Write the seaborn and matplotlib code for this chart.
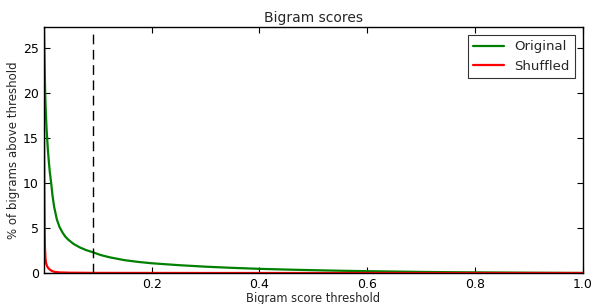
import matplotlib
matplotlib.use("Agg")
import matplotlib.pyplot as plt
import seaborn as sns
import pandas as pd

# thresholds and % of bigrams above them
orig_x = [0.0, 0.0005, 0.001, 0.0017, 0.0024, 0.0032, 0.004, 0.005, 0.006, 0.0075,
          0.009, 0.011, 0.0135, 0.016, 0.019, 0.024, 0.029, 0.035, 0.04, 0.045,
          0.055, 0.067, 0.078, 0.091, 0.105, 0.122, 0.15, 0.175, 0.2, 0.25,
          0.3, 0.35, 0.4, 0.45, 0.5, 0.55, 0.6, 0.65, 0.7, 0.75,
          0.8, 0.85, 0.9, 0.95, 1.0]
orig_y = [29.0, 26.5, 24.5, 22.0, 20.0, 18.5, 17.3, 16.0, 15.0, 13.6,
          12.5, 11.2, 10.0, 8.6, 7.35, 5.96, 5.1, 4.45, 4.02, 3.71,
          3.23, 2.83, 2.55, 2.3, 2.0, 1.74, 1.42, 1.23, 1.08, 0.87,
          0.7, 0.57, 0.46, 0.38, 0.31, 0.25, 0.2, 0.16, 0.12, 0.09,
          0.07, 0.05, 0.03, 0.015, 0.0]
shuf_x = [0.0, 0.0005, 0.001, 0.0015, 0.002, 0.003, 0.004, 0.006, 0.008, 0.011,
          0.015, 0.02, 0.03, 0.05, 0.1, 0.3, 1.0]
shuf_y = [21.1, 14.0, 8.0, 4.5, 2.8, 1.6, 1.1, 0.75, 0.55, 0.38,
          0.22, 0.12, 0.06, 0.03, 0.01, 0.0, 0.0]
cutoff = 0.091

df = pd.concat([
    pd.DataFrame({"x": orig_x, "y": orig_y, "set": "Original"}),
    pd.DataFrame({"x": shuf_x, "y": shuf_y, "set": "Shuffled"}),
])

sns.set_style("ticks")
plt.rcParams.update({
    "font.family": ["DejaVu Sans"],
    "xtick.direction": "in", "ytick.direction": "in",
    "xtick.top": True, "ytick.right": True,
    "xtick.major.size": 4, "ytick.major.size": 4,
    "axes.edgecolor": "black", "axes.linewidth": 1.0,
})

fig = plt.figure(figsize=(5.93, 3.04), dpi=100)
ax = fig.add_axes([0.074, 0.102, 0.909, 0.809])

sns.lineplot(data=df, x="x", y="y", hue="set", ax=ax, sort=False,
             palette={"Original": "#008000", "Shuffled": "#ff0000"},
             linewidth=1.6, estimator=None)
ax.vlines(cutoff, 0, 26.8, colors="black", linestyles=(0, (7, 4)), linewidth=1)

ax.set_xlim(0, 1.0)
ax.set_ylim(0, 27.3)
ax.set_xticks([0.2, 0.4, 0.6, 0.8, 1.0])
ax.set_xticklabels(["0.2", "0.4", "0.6", "0.8", "1.0"])
ax.set_yticks([0, 5, 10, 15, 20, 25])
ax.tick_params(labelsize=9, colors="black")
ax.set_title("Bigram scores", fontsize=10, pad=4)
ax.set_xlabel("Bigram score threshold", fontsize=8.3, labelpad=1)
ax.set_ylabel("% of bigrams above threshold", fontsize=8.5, labelpad=2)

leg = ax.legend(loc="upper right", fontsize=9.5, fancybox=False, frameon=True,
                borderaxespad=0.6, handlelength=2.3)
leg.get_frame().set_edgecolor("black")
leg.get_frame().set_linewidth(0.8)
leg.set_title(None)

fig.savefig("out.png", dpi=100)
